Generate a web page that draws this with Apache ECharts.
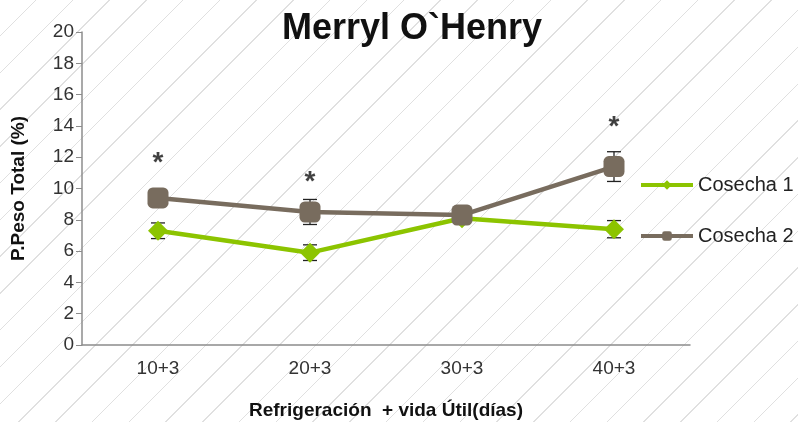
<!DOCTYPE html>
<html>
<head>
<meta charset="utf-8">
<script src="https://cdn.jsdelivr.net/npm/echarts@6/dist/echarts.min.js"></script>
<style>
    html, body { margin: 0; padding: 0; }
    body {
        width: 798px;
        height: 422px;
        background-color: #fff;
        background-image: repeating-linear-gradient(135deg, #fff 0px, #fff 25px, #e0e0e0 25px, #e0e0e0 26px);
    }
    #chart { width: 798px; height: 422px; }
</style>
</head>
<body>
<div id="chart"></div>
<script>
// categories and values
const categories = ['10+3', '20+3', '30+3', '40+3']
const cosecha1 = [7.3, 5.9, 8.1, 7.4]
const cosecha2 = [9.4, 8.5, 8.3, 11.4]
const err1 = [0.5, 0.5, 0.3, 0.55]
const err2 = [0.3, 0.8, 0.3, 0.95]
const starValues = [11.6, 10.4, null, 13.9]
const yTicks = [0, 20, 2]

const green = '#8cc400'
const brown = '#786c5e'

const chart = echarts.init(document.getElementById('chart'))

// error bars drawn through the axis scale
function errSeries(values, errs) {
    return {
        type: 'custom',
        silent: true,
        z: 1,
        data: values.map((v, i) => [i, v - errs[i], v + errs[i]]),
        renderItem: (params, api) => {
            const lo = api.coord([api.value(0), api.value(1)])
            const hi = api.coord([api.value(0), api.value(2)])
            const w = 7
            const style = { stroke: '#222', lineWidth: 1.3 }
            return {
                type: 'group',
                children: [
                    { type: 'line', shape: { x1: lo[0], y1: lo[1], x2: hi[0], y2: hi[1] }, style },
                    { type: 'line', shape: { x1: lo[0] - w, y1: lo[1], x2: lo[0] + w, y2: lo[1] }, style },
                    { type: 'line', shape: { x1: hi[0] - w, y1: hi[1], x2: hi[0] + w, y2: hi[1] }, style },
                ]
            }
        }
    }
}

const option = {
    animation: false,
    textStyle: { fontFamily: 'Liberation Sans, Arial, sans-serif' },
    title: {
        text: 'Merryl O`Henry',
        left: 407,
        top: 6,
        textAlign: 'center',
        textStyle: { fontSize: 36, fontWeight: 'bold', color: '#111' }
    },
    legend: {
        orient: 'vertical',
        left: 634,
        top: 170,
        itemWidth: 52,
        itemHeight: 12,
        itemGap: 31,
        data: ['Cosecha 1', 'Cosecha 2'],
        lineStyle: { width: 4 },
        textStyle: { fontSize: 20, color: '#222', padding: [0, 0, 0, 0] }
    },
    grid: { left: 82, right: 108, top: 32, bottom: 77, outerBoundsMode: 'none' },
    xAxis: {
        type: 'category',
        data: categories,
        name: 'Refrigeración  + vida Útil(días)',
        nameLocation: 'middle',
        nameGap: 56,
        nameTextStyle: { fontSize: 19, fontWeight: 'bold', color: '#111' },
        axisLine: { lineStyle: { color: '#8c8c8c', width: 1.5 } },
        axisTick: { length: 6, lineStyle: { color: '#8c8c8c' } },
        axisLabel: { fontSize: 19, color: '#333', margin: 14 }
    },
    yAxis: {
        type: 'value',
        min: yTicks[0],
        max: yTicks[1],
        interval: yTicks[2],
        name: 'P.Peso Total (%)',
        nameLocation: 'middle',
        nameGap: 54,
        nameTextStyle: { fontSize: 19, fontWeight: 'bold', color: '#111' },
        splitLine: { show: false },
        axisLine: { show: true, lineStyle: { color: '#8c8c8c', width: 1.5 } },
        axisTick: { show: true, length: 6, lineStyle: { color: '#8c8c8c' } },
        axisLabel: { fontSize: 19, color: '#333', margin: 8 }
    },
    series: [
        errSeries(cosecha1, err1),
        errSeries(cosecha2, err2),
        {
            name: 'Cosecha 1',
            type: 'line',
            data: cosecha1,
            z: 3,
            symbol: 'diamond',
            symbolSize: 20,
            itemStyle: { color: green },
            lineStyle: { color: green, width: 4.5 }
        },
        {
            name: 'Cosecha 2',
            type: 'line',
            data: cosecha2,
            z: 4,
            symbol: 'roundRect',
            symbolSize: 21,
            itemStyle: { color: brown },
            lineStyle: { color: brown, width: 4.5 }
        },
        {
            name: 'sig',
            type: 'scatter',
            data: starValues,
            symbolSize: 0,
            silent: true,
            label: {
                show: true,
                position: 'inside',
                formatter: '*',
                fontSize: 28,
                fontWeight: 'bold',
                color: '#111'
            }
        }
    ]
}

chart.setOption(option)
</script>
</body>
</html>
